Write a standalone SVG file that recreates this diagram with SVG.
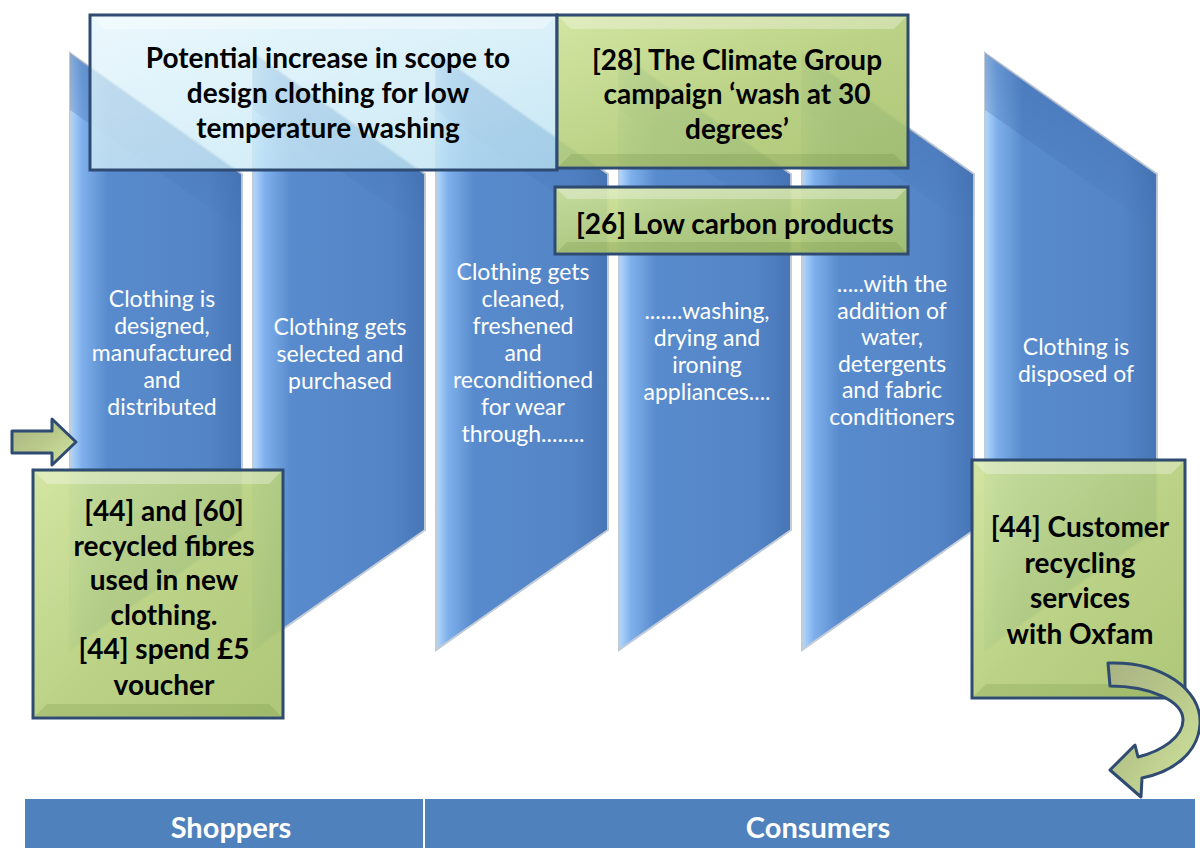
<svg xmlns="http://www.w3.org/2000/svg" width="1200" height="848" viewBox="0 0 1200 848">
  <defs>
    <linearGradient id="colGrad" x1="0" y1="0" x2="1" y2="0">
      <stop offset="0" stop-color="#b4d8fb"/>
      <stop offset="0.07" stop-color="#7fb0ec"/>
      <stop offset="0.22" stop-color="#588bcd"/>
      <stop offset="0.8" stop-color="#5384c6"/>
      <stop offset="1" stop-color="#4776b6"/>
    </linearGradient>
    <linearGradient id="colTop" x1="0" y1="0" x2="0" y2="1">
      <stop offset="0" stop-color="#2e5a9a" stop-opacity="0.35"/>
      <stop offset="1" stop-color="#2e5a9a" stop-opacity="0"/>
    </linearGradient>
    <linearGradient id="greenGrad" x1="0" y1="0" x2="1" y2="1">
      <stop offset="0" stop-color="#cfe39a"/>
      <stop offset="0.5" stop-color="#b6cf7d"/>
      <stop offset="1" stop-color="#a8c26c"/>
    </linearGradient>
    <linearGradient id="waterGrad" x1="0" y1="0" x2="1" y2="1">
      <stop offset="0" stop-color="#e6f6fc"/>
      <stop offset="0.6" stop-color="#cdebf7"/>
      <stop offset="1" stop-color="#b8e0f1"/>
    </linearGradient>
    <linearGradient id="arrowGrad" x1="0" y1="0" x2="1" y2="1">
      <stop offset="0" stop-color="#a9b384"/>
      <stop offset="0.5" stop-color="#b9c98a"/>
      <stop offset="1" stop-color="#d3e6a2"/>
    </linearGradient>
    <style>
      .col { fill: url(#colGrad); stroke: #c3ccd6; stroke-width: 2; }
      .coltop { fill: url(#colTop); }
      .ctext { font-family: Lato, "Open Sans", sans-serif; font-size: 23px; fill: #ffffff; text-anchor: middle; }
      .btext { font-family: Lato, "Open Sans", sans-serif; font-size: 28px; font-weight: bold; fill: #000000; text-anchor: middle; }
      .green { fill: url(#greenGrad); fill-opacity: 0.92; stroke: #2f4b72; stroke-width: 3; }
      .water { fill: url(#waterGrad); fill-opacity: 0.8; stroke: #2f4b72; stroke-width: 3; }
      .bevL { fill: #ffffff; fill-opacity: 0.3; }
      .bevD { fill: #4d6a1e; fill-opacity: 0.15; }
      .bevW { fill: #ffffff; fill-opacity: 0.35; }
      .arrow { fill: url(#arrowGrad); stroke: #2f4b72; stroke-width: 3; stroke-linejoin: round; }
      .bar { fill: #4f81bd; }
      .bartext { font-family: Lato, "Open Sans", sans-serif; font-size: 29px; font-weight: bold; fill: #ffffff; text-anchor: middle; }
    </style>
  </defs>

  <rect width="1200" height="848" fill="#ffffff"/>

  <!-- process columns -->
  <g id="col1">
    <polygon class="col" points="70,53 242,174 242,530 70,650"/>
    <polygon class="coltop" points="70,53 242,174 242,230 70,110"/>
    <text class="ctext"><tspan x="162" y="307">Clothing is</tspan><tspan x="162" y="334">designed,</tspan><tspan x="162" y="361">manufactured</tspan><tspan x="162" y="388">and</tspan><tspan x="162" y="415">distributed</tspan></text>
  </g>
  <g id="col2">
    <polygon class="col" points="253,53 425,174 425,530 253,650"/>
    <polygon class="coltop" points="253,53 425,174 425,230 253,110"/>
    <text class="ctext"><tspan x="340" y="335">Clothing gets</tspan><tspan x="340" y="362">selected and</tspan><tspan x="340" y="389">purchased</tspan></text>
  </g>
  <g id="col3">
    <polygon class="col" points="436,53 608,174 608,530 436,650"/>
    <polygon class="coltop" points="436,53 608,174 608,230 436,110"/>
    <text class="ctext"><tspan x="523" y="280">Clothing gets</tspan><tspan x="523" y="307">cleaned,</tspan><tspan x="523" y="334">freshened</tspan><tspan x="523" y="361">and</tspan><tspan x="523" y="388">reconditioned</tspan><tspan x="523" y="415">for wear</tspan><tspan x="523" y="442">through........</tspan></text>
  </g>
  <g id="col4">
    <polygon class="col" points="619,53 791,174 791,530 619,650"/>
    <polygon class="coltop" points="619,53 791,174 791,230 619,110"/>
    <text class="ctext"><tspan x="707" y="319">.......washing,</tspan><tspan x="707" y="346">drying and</tspan><tspan x="707" y="373">ironing</tspan><tspan x="707" y="400">appliances....</tspan></text>
  </g>
  <g id="col5">
    <polygon class="col" points="802,53 974,174 974,530 802,650"/>
    <polygon class="coltop" points="802,53 974,174 974,230 802,110"/>
    <text class="ctext"><tspan x="892" y="292">.....with the</tspan><tspan x="892" y="319">addition of</tspan><tspan x="892" y="345">water,</tspan><tspan x="892" y="372">detergents</tspan><tspan x="892" y="398">and fabric</tspan><tspan x="892" y="425">conditioners</tspan></text>
  </g>
  <g id="col6">
    <polygon class="col" points="985,53 1157,174 1157,530 985,650"/>
    <polygon class="coltop" points="985,53 1157,174 1157,230 985,110"/>
    <text class="ctext"><tspan x="1076" y="355">Clothing is</tspan><tspan x="1076" y="382">disposed of</tspan></text>
  </g>

  <!-- annotation boxes -->
  <g id="box-design">
    <rect class="water" x="90" y="15" width="467" height="155"/>
    <polygon class="bevW" points="92,17 555,17 543,29 104,29"/>
    <text class="btext"><tspan x="328" y="68">Potential increase in scope to</tspan><tspan x="328" y="103">design clothing for low</tspan><tspan x="328" y="138">temperature washing</tspan></text>
  </g>
  <g id="box-climate">
    <rect class="green" x="557" y="15" width="351" height="153"/>
    <polygon class="bevL" points="559,17 906,17 894,29 571,29"/>
    <polygon class="bevD" points="559,166 906,166 894,154 571,154"/>
    <text class="btext"><tspan x="737" y="70">[28] The Climate Group</tspan><tspan x="737" y="104">campaign ‘wash at 30</tspan><tspan x="737" y="139">degrees’</tspan></text>
  </g>
  <g id="box-lowcarbon">
    <rect class="green" x="555" y="187" width="353" height="67"/>
    <polygon class="bevL" points="557,189 906,189 896,199 567,199"/>
    <polygon class="bevD" points="557,252 906,252 896,242 567,242"/>
    <text class="btext"><tspan x="735" y="234">[26] Low carbon products</tspan></text>
  </g>
  <g id="box-recycled">
    <rect class="green" x="33" y="470" width="250" height="248"/>
    <polygon class="bevL" points="35,472 281,472 269,484 47,484"/>
    <polygon class="bevD" points="35,716 281,716 269,704 47,704"/>
    <text class="btext"><tspan x="164" y="521">[44] and [60]</tspan><tspan x="164" y="556">recycled fibres</tspan><tspan x="164" y="590">used in new</tspan><tspan x="164" y="625">clothing.</tspan><tspan x="164" y="659">[44] spend £5</tspan><tspan x="164" y="695">voucher</tspan></text>
  </g>
  <g id="box-customer">
    <rect class="green" x="972" y="460" width="213" height="238"/>
    <polygon class="bevL" points="974,462 1183,462 1171,474 986,474"/>
    <polygon class="bevD" points="974,696 1183,696 1171,684 986,684"/>
    <text class="btext"><tspan x="1080" y="537">[44] Customer</tspan><tspan x="1080" y="573">recycling</tspan><tspan x="1080" y="608">services</tspan><tspan x="1080" y="644">with Oxfam</tspan></text>
  </g>

  <!-- connectors -->
  <g id="connectors">
    <polygon class="arrow" points="12,431 52,431 52,419 76,442 52,465 52,453 12,453"/>
    <path class="arrow" d="M1108,663 C1162,661 1202,690 1200,724 C1198,754 1172,772 1142,778 L1141,797 L1110,770 L1135,745 L1138,757 C1162,751 1183,737 1183,720 C1183,701 1150,686 1110,686 Z"/>
  </g>

  <!-- bottom bar -->
  <g id="stage-bar">
    <rect class="bar" x="25" y="799" width="398" height="49"/>
    <rect class="bar" x="425" y="799" width="770" height="49"/>
    <text class="bartext" x="231" y="838">Shoppers</text>
    <text class="bartext" x="818" y="838">Consumers</text>
  </g>
</svg>
